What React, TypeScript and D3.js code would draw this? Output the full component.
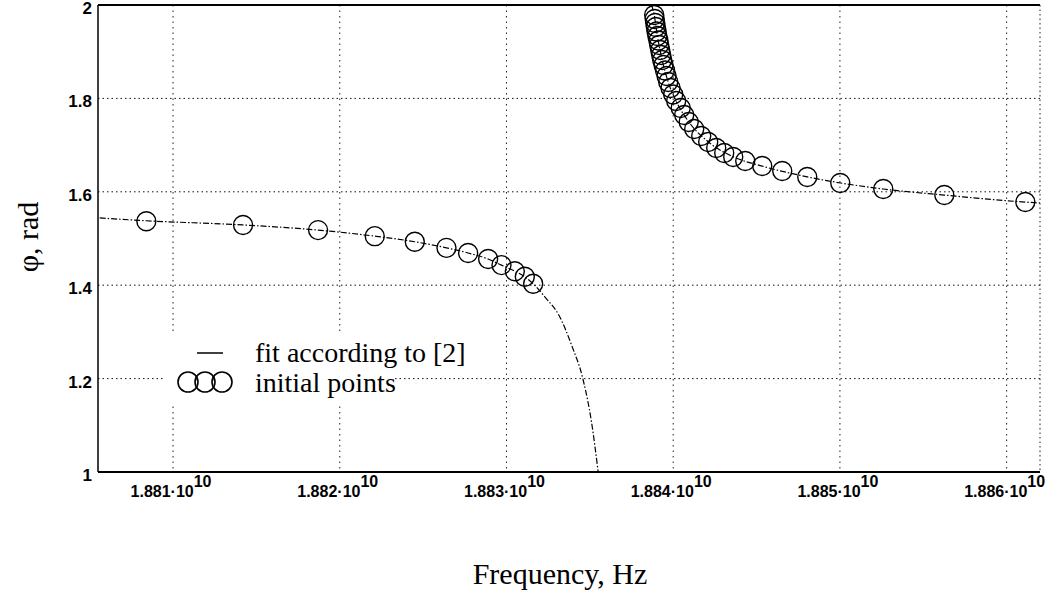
import React from 'react';
import * as d3 from 'd3';

// Frequencies in units of 10^10 Hz, phase in rad
const xTicks = [1.881, 1.882, 1.883, 1.884, 1.885, 1.886];
const xTickLabels = ['1.881', '1.882', '1.883', '1.884', '1.885', '1.886'];
const xTickExponent = '10';
const yTicks = [1, 1.2, 1.4, 1.6, 1.8, 2];
const yTickLabels = ['1', '1.2', '1.4', '1.6', '1.8', '2'];

const leftPointsFreq = [1.88084, 1.88142, 1.88187, 1.88221, 1.88245, 1.88264, 1.88277, 1.88289, 1.88297, 1.88305, 1.88311, 1.88316];
const leftPointsPhi = [1.537, 1.529, 1.518, 1.505, 1.493, 1.480, 1.469, 1.456, 1.443, 1.430, 1.418, 1.403];

const rightPointsFreq = [
  1.883886, 1.883889, 1.883892, 1.883896, 1.8839, 1.883905, 1.883911, 1.883916, 1.883922, 1.883928,
  1.883934, 1.883942, 1.883951, 1.88396, 1.88397, 1.883984, 1.884, 1.884018, 1.884045, 1.884066,
  1.884093, 1.884126, 1.884168, 1.88421, 1.884258, 1.884306, 1.88436, 1.884432, 1.884534, 1.884654,
  1.884804, 1.885002, 1.88526, 1.885626, 1.886112,
];
const rightPointsPhi = [
  1.9786, 1.97, 1.9615, 1.9529, 1.9433, 1.9336, 1.924, 1.9143, 1.9036, 1.8929,
  1.8822, 1.8715, 1.8597, 1.848, 1.8351, 1.8223, 1.8084, 1.7944, 1.7794, 1.7645,
  1.7495, 1.7345, 1.7195, 1.7066, 1.6938, 1.6831, 1.6745, 1.666, 1.6552, 1.6445,
  1.6317, 1.6188, 1.606, 1.5931, 1.5782,
];

const fitLeftFreq = [1.88056, 1.88084, 1.88142, 1.88187, 1.88221, 1.88245, 1.88264, 1.88277, 1.88289, 1.88297, 1.88305, 1.88311, 1.88316, 1.88323, 1.88332, 1.88339, 1.88346, 1.88351, 1.88355];
const fitLeftPhi = [1.544, 1.538, 1.529, 1.518, 1.505, 1.493, 1.480, 1.469, 1.456, 1.443, 1.430, 1.418, 1.403, 1.375, 1.332, 1.272, 1.197, 1.107, 1.0];

const fitRightFreq = [1.88387, 1.883886, 1.883905, 1.883934, 1.88397, 1.884018, 1.884093, 1.88421, 1.88436, 1.884534, 1.884804, 1.88526, 1.885626, 1.886112, 1.8862];
const fitRightPhi = [2.0, 1.979, 1.934, 1.882, 1.835, 1.794, 1.75, 1.707, 1.675, 1.655, 1.632, 1.606, 1.593, 1.578, 1.576];

const legendLabels = ['fit according to [2]', 'initial points'];
const xTitle = 'Frequency, Hz';
const yTitle = 'φ, rad';

const W = 1049;
const H = 594;
const L = 98, R = 1040, T = 5, B = 472;

export default function App() {
  const x = d3.scaleLinear().domain([1.88055, 1.8862]).range([L, R]);
  const y = d3.scaleLinear().domain([1, 2]).range([B, T]);
  const line = d3
    .line<[number, number]>()
    .x((d) => x(d[0]))
    .y((d) => y(d[1]))
    .curve(d3.curveMonotoneX);

  const fitL = fitLeftFreq.map((f, i) => [f, fitLeftPhi[i]] as [number, number]);
  const fitR = fitRightFreq.map((f, i) => [f, fitRightPhi[i]] as [number, number]);
  const pts = [
    ...leftPointsFreq.map((f, i) => [f, leftPointsPhi[i]]),
    ...rightPointsFreq.map((f, i) => [f, rightPointsPhi[i]]),
  ];
  const serif = '"Liberation Serif", "Times New Roman", serif';
  const sans = '"Liberation Sans", Arial, sans-serif';

  return (
    <svg width={W} height={H} style={{ position: 'absolute', left: 0, top: 0, background: '#fff' }}>
      <defs>
        <clipPath id="plot">
          <rect x={L} y={T} width={R - L} height={B - T} />
        </clipPath>
      </defs>
      <rect x={0} y={0} width={W} height={H} fill="#fff" />
      {/* grid */}
      {yTicks.slice(1, -1).map((v) => (
        <line key={'gy' + v} x1={L} x2={R} y1={y(v)} y2={y(v)} stroke="#111" strokeWidth={1} strokeDasharray="1.5,3" />
      ))}
      {xTicks.map((v) => (
        <line key={'gx' + v} x1={x(v)} x2={x(v)} y1={T} y2={B} stroke="#222" strokeWidth={1} strokeDasharray="1.5,4" />
      ))}
      {/* frame */}
      <line x1={L} x2={R} y1={T} y2={T} stroke="#000" strokeWidth={2} />
      <line x1={L} x2={R} y1={B} y2={B} stroke="#000" strokeWidth={2} />
      <line x1={L} x2={L} y1={T} y2={B} stroke="#000" strokeWidth={1.5} />
      <line x1={R} x2={R} y1={T} y2={B} stroke="#222" strokeWidth={1} strokeDasharray="1.5,3" />

      {/* legend background */}
      <rect x={165} y={335} width={228} height={68} fill="#fff" />

      {/* fit lines */}
      <g clipPath="url(#plot)">
        <path d={line(fitL) || ''} fill="none" stroke="#000" strokeWidth={1.2} strokeDasharray="6,2,1.5,2" />
        <path d={line(fitR) || ''} fill="none" stroke="#000" strokeWidth={1.2} strokeDasharray="6,2,1.5,2" />
      </g>
      {/* points */}
      {pts.map((p, i) => (
        <circle key={'p' + i} cx={x(p[0])} cy={y(p[1])} r={9.5} fill="none" stroke="#000" strokeWidth={1.4} />
      ))}

      {/* y tick labels */}
      {yTicks.map((v, i) => (
        <text key={'yl' + v} x={92} y={y(v) + 9} textAnchor="end" fontFamily={sans} fontWeight="bold" fontSize={17}>
          {yTickLabels[i]}
        </text>
      ))}
      {/* x tick labels */}
      {xTicks.map((v, i) => (
        <text key={'xl' + v} x={x(v) - 2} y={497} textAnchor="middle" fontFamily={sans} fontWeight="bold" fontSize={16}>
          {xTickLabels[i] + '·10'}
          <tspan dy={-10} fontSize={16}>{xTickExponent}</tspan>
        </text>
      ))}

      {/* legend */}
      <line x1={197} x2={223} y1={353} y2={353} stroke="#000" strokeWidth={1.5} />
      {[188, 205, 222].map((cx) => (
        <circle key={'lc' + cx} cx={cx} cy={382} r={10} fill="none" stroke="#000" strokeWidth={1.6} />
      ))}
      <text x={255} y={362} fontFamily={serif} fontSize={28}>{legendLabels[0]}</text>
      <text x={255} y={392} fontFamily={serif} fontSize={28}>{legendLabels[1]}</text>

      {/* axis titles */}
      <text x={560} y={584} textAnchor="middle" fontFamily={serif} fontSize={30}>{xTitle}</text>
      <text transform={`translate(38,237) rotate(-90)`} textAnchor="middle" fontFamily={serif} fontSize={30}>{yTitle}</text>
    </svg>
  );
}
